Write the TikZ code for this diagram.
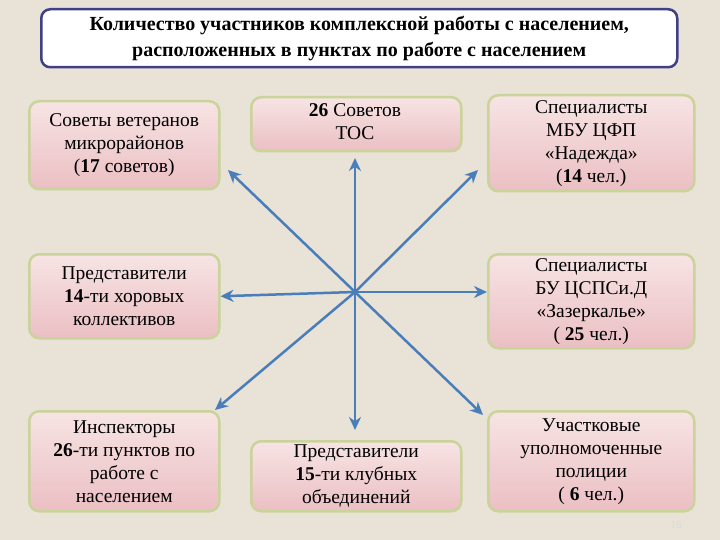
\documentclass[tikz,border=0pt]{standalone}
\usepackage{fontspec}
\setmainfont{Liberation Serif}
\usetikzlibrary{arrows.meta}
\definecolor{bg}{HTML}{E9E2D6}
\definecolor{pinkA}{HTML}{F7E4E4}
\definecolor{pinkB}{HTML}{EBBFC3}
\definecolor{bord}{HTML}{C9D39A}
\definecolor{arr}{HTML}{4A7EBB}
\tikzset{
 box/.style={draw=bord,line width=2.5pt,rounded corners=10pt,top color=pinkA,bottom color=pinkB,
   align=center,font=\fontsize{19.5}{23}\selectfont,inner sep=0pt,anchor=north west},
 conn/.style={draw=arr,line width=2.5pt,-{Stealth[length=13pt,width=12pt]}}
}
\begin{document}
\begin{tikzpicture}[x=1pt,y=-1pt]
\fill[bg] (0,0) rectangle (720,540);
\useasboundingbox (0,0) rectangle (720,540);
\node[draw=black!45!blue!50!gray,line width=2.5pt,fill=white,rounded corners=9pt,minimum width=636pt,minimum height=58pt,anchor=north west,align=center,font=\bfseries\fontsize{20}{26}\selectfont] (title) at (40,8)
 {Количество участников комплексной работы с населением,\\ расположенных в пунктах по работе с населением};
\node[box,minimum width=190pt,minimum height=88pt] (b1) at (28,100) {Советы ветеранов\\микрорайонов\\(\textbf{17} советов)};
\node[box,minimum width=210pt,minimum height=54pt] (b2) at (250,96) {};
\node[align=center,font=\fontsize{19.5}{23}\selectfont,anchor=north] (b2t) at (355,100) {\textbf{26} Советов\\ТОС};
\node[box,minimum width=206pt,minimum height=96pt] (b3) at (487,94) {Специалисты\\МБУ ЦФП\\«Надежда»\\(\textbf{14} чел.)};
\node[box,minimum width=190pt,minimum height=84pt] (b4) at (28,253) {Представители\\\textbf{14}-ти хоровых\\коллективов};
\node[box,minimum width=206pt,minimum height=94pt] (b5) at (487,253) {Специалисты\\БУ ЦСПСи.Д\\«Зазеркалье»\\( \textbf{25} чел.)};
\node[box,minimum width=190pt,minimum height=100pt] (b6) at (28,410) {Инспекторы\\\textbf{26}-ти пунктов по\\работе с\\населением};
\node[box,minimum width=210pt,minimum height=70pt] (b7) at (250,440) {Представители\\\textbf{15}-ти клубных\\объединений};
\node[box,minimum width=206pt,minimum height=100pt] (b8) at (487,410) {Участковые\\уполномоченные\\полиции\\( \textbf{6} чел.)};
\node[text=white!85!black,font=\fontsize{11}{11}\selectfont] (pg) at (676,525) {16};
\coordinate (c) at (355,292);
\draw[conn] (c) -- (228,170);
\draw[conn] (c) -- (355,158);
\draw[conn] (c) -- (478,170);
\draw[conn] (c) -- (b4.east);
\draw[conn] (c) -- (487,292);
\draw[conn] (c) -- (215,410);
\draw[conn] (c) -- (355,430);
\draw[conn] (c) -- (483,415);
\end{tikzpicture}
\end{document}
